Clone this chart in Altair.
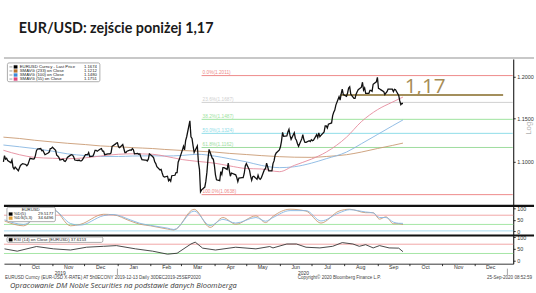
import altair as alt
import pandas as pd

W = 515
FULL_W = 536
FONT = "Liberation Sans"

title_text = "EUR/USD: zejście poniżej 1,17"

# ---- daily closes ----
close_2019_09 = [1.1000, 1.1070, 1.1030, 1.1040, 1.1015, 1.0990, 1.1020, 1.0940, 1.0920, 1.0940, 1.0900]
close_2019_10 = [1.0930, 1.0960, 1.0970, 1.0980, 1.0970, 1.0955, 1.0970, 1.1005, 1.1040, 1.1030, 1.1035, 1.1070,
                 1.1125, 1.1145, 1.1150, 1.1125, 1.1130, 1.1105, 1.1080, 1.1100, 1.1110, 1.1150, 1.1152]
close_2019_11 = [1.1165, 1.1130, 1.1075, 1.1065, 1.1050, 1.1020, 1.1030, 1.1010, 1.1005, 1.1020, 1.1050, 1.1075,
                 1.1080, 1.1075, 1.1055, 1.1020, 1.1015, 1.1020, 1.1010, 1.1010, 1.1020]
close_2019_12 = [1.1080, 1.1080, 1.1080, 1.1105, 1.1060, 1.1065, 1.1090, 1.1130, 1.1130, 1.1120, 1.1145, 1.1150,
                 1.1120, 1.1120, 1.1080, 1.1090, 1.1090, 1.1090, 1.1100, 1.1175, 1.1200, 1.1213]
close_2020_01 = [1.1215, 1.1170, 1.1160, 1.1195, 1.1150, 1.1105, 1.1105, 1.1120, 1.1135, 1.1130, 1.1150, 1.1135,
                 1.1090, 1.1095, 1.1085, 1.1090, 1.1055, 1.1025, 1.1020, 1.1020, 1.1010, 1.1030, 1.1090]
close_2020_02 = [1.1060, 1.1045, 1.1000, 1.0980, 1.0945, 1.0910, 1.0915, 1.0875, 1.0840, 1.0830, 1.0840, 1.0790,
                 1.0805, 1.0785, 1.0845, 1.0850, 1.0880, 1.0880, 1.0995, 1.1025]
close_2020_03 = [1.1135, 1.1175, 1.1135, 1.1240, 1.1285, 1.1470, 1.1285, 1.1265, 1.1180, 1.1105, 1.1180, 1.0995,
                 1.0915, 1.0670, 1.0690, 1.0720, 1.0785, 1.0885, 1.1030, 1.1140, 1.1040, 1.1030]
close_2020_04 = [1.0960, 1.0855, 1.0800, 1.0790, 1.0890, 1.0860, 1.0935, 1.0935, 1.0915, 1.0985, 1.0905, 1.0840,
                 1.0875, 1.0860, 1.0855, 1.0825, 1.0780, 1.0820, 1.0825, 1.0825, 1.0870, 1.0955]
close_2020_05 = [1.0980, 1.0905, 1.0840, 1.0795, 1.0835, 1.0840, 1.0805, 1.0850, 1.0815, 1.0805, 1.0820, 1.0915,
                 1.0925, 1.0985, 1.0945, 1.0900, 1.0900, 1.0980, 1.1010, 1.1075, 1.1100]
close_2020_06 = [1.1135, 1.1170, 1.1235, 1.1335, 1.1290, 1.1295, 1.1340, 1.1370, 1.1300, 1.1255, 1.1330, 1.1265,
                 1.1245, 1.1205, 1.1175, 1.1260, 1.1310, 1.1250, 1.1220, 1.1220, 1.1240, 1.1230]
close_2020_07 = [1.1250, 1.1240, 1.1245, 1.1310, 1.1275, 1.1330, 1.1285, 1.1300, 1.1340, 1.1410, 1.1410, 1.1385,
                 1.1430, 1.1445, 1.1530, 1.1570, 1.1595, 1.1655, 1.1755, 1.1715, 1.1790, 1.1845, 1.1780]
close_2020_08 = [1.1760, 1.1800, 1.1860, 1.1875, 1.1785, 1.1735, 1.1735, 1.1785, 1.1815, 1.1840, 1.1870, 1.1930,
                 1.1835, 1.1860, 1.1795, 1.1795, 1.1830, 1.1830, 1.1820, 1.1905, 1.1935]
close_2020_09 = [1.1990, 1.1855, 1.1850, 1.1840, 1.1815, 1.1780, 1.1800, 1.1815, 1.1845, 1.1845, 1.1845, 1.1815,
                 1.1845, 1.1840, 1.1770, 1.1705, 1.1660, 1.1675, 1.1674]

price_months = [
    ("2019-09-16", "2019-09-30", close_2019_09), ("2019-10-01", "2019-10-31", close_2019_10),
    ("2019-11-01", "2019-11-30", close_2019_11), ("2019-12-01", "2019-12-31", close_2019_12),
    ("2020-01-01", "2020-01-31", close_2020_01), ("2020-02-01", "2020-02-29", close_2020_02),
    ("2020-03-01", "2020-03-31", close_2020_03), ("2020-04-01", "2020-04-30", close_2020_04),
    ("2020-05-01", "2020-05-31", close_2020_05), ("2020-06-01", "2020-06-30", close_2020_06),
    ("2020-07-01", "2020-07-31", close_2020_07), ("2020-08-01", "2020-08-31", close_2020_08),
    ("2020-09-01", "2020-09-25", close_2020_09),
]

# ---- moving averages ----
sma_dates = ["2019-09-16", "2019-10-01", "2019-10-15", "2019-11-01", "2019-11-15", "2019-12-02", "2019-12-16",
             "2020-01-02", "2020-01-15", "2020-02-03", "2020-02-14", "2020-03-02", "2020-03-16", "2020-04-01",
             "2020-04-15", "2020-05-01", "2020-05-15", "2020-06-01", "2020-06-15", "2020-07-01", "2020-07-15",
             "2020-08-03", "2020-08-17", "2020-09-01", "2020-09-15", "2020-09-25"]
sma233 = [1.1280, 1.1265, 1.1245, 1.1225, 1.1210, 1.1195, 1.1180, 1.1170, 1.1160, 1.1150, 1.1140, 1.1128, 1.1120,
          1.1110, 1.1095, 1.1082, 1.1070, 1.1058, 1.1052, 1.1050, 1.1060, 1.1080, 1.1110, 1.1150, 1.1185, 1.1212]
sma100 = [1.1190, 1.1170, 1.1150, 1.1120, 1.1090, 1.1070, 1.1060, 1.1060, 1.1065, 1.1068, 1.1065, 1.1072, 1.1085,
          1.1065, 1.1035, 1.1000, 1.0960, 1.0935, 1.0945, 1.0985, 1.1035, 1.1110, 1.1205, 1.1310, 1.1410, 1.1480]
sma55 = [1.1130, 1.1080, 1.1050, 1.1040, 1.1035, 1.1045, 1.1065, 1.1085, 1.1090, 1.1085, 1.1065, 1.1025, 1.1005,
         1.0985, 1.0955, 1.0925, 1.0920, 1.0890, 1.0960, 1.1030, 1.1110, 1.1280, 1.1460, 1.1600, 1.1690, 1.1751]
sma_names = ["SMAVG (233)", "SMAVG (100)", "SMAVG (55)"]
sma_colors = ["#c99a72", "#86b6e2", "#e58a9c"]

# ---- Fibonacci retracement ----
fib_labels = ["0.0%(1.2011)", "23.6%(1.1687)", "38.2%(1.1487)", "50.0%(1.1324)", "61.8%(1.1162)", "100.0%(1.0638)"]
fib_levels = [1.2011, 1.1687, 1.1487, 1.1324, 1.1162, 1.0638]
fib_colors = ["#ee8a8a", "#cfcfcf", "#9ee39e", "#8fdde8", "#9edc9e", "#ee8a8a"]
fib_start = "2020-03-20"
fib_end = "2021-01-06"

level_dates = ["2020-07-28", "2020-12-28"]
level_value = 1.1775

# ---- legend texts ----
leg_names = ["EURUSD Curncy - Last Price", "SMAVG (233)  on Close", "SMAVG (100)  on Close", "SMAVG (55)  on Close"]
leg_values = ["1.1674", "1.1212", "1.1480", "1.1751"]
leg_colors = ["#000000", "#b8722e", "#3f8ad6", "#e0457b"]

# ---- stochastic ----
stoch_dates = ["2019-09-17", "2019-10-05", "2019-10-21", "2019-11-02", "2019-11-18", "2019-11-27", "2019-12-19",
               "2019-12-28", "2020-01-13", "2020-01-22", "2020-02-01", "2020-02-17", "2020-02-23", "2020-03-13",
               "2020-03-28", "2020-04-09", "2020-04-21", "2020-05-10", "2020-05-19", "2020-05-26", "2020-06-11",
               "2020-06-26", "2020-07-10", "2020-07-27", "2020-08-06", "2020-08-21", "2020-08-28", "2020-09-03",
               "2020-09-09", "2020-09-16", "2020-09-21", "2020-09-25"]
stoch_d = [45, 24, 85, 94, 24, 30, 74, 72, 45, 31, 24, 10, 6, 96, 17, 60, 31, 67, 38, 65, 96, 88, 36, 88, 96, 81,
           81, 53, 63, 33, 33, 29.5]
stoch_ds = [50, 30, 76, 92, 34, 27, 68, 73, 50, 35, 26, 14, 8, 88, 25, 52, 36, 60, 44, 60, 90, 90, 45, 80, 94, 84,
            80, 60, 60, 40, 35, 34.6]
stoch_ref = [70, 30, 2]
stoch_ref_colors = ["#f2a7a7", "#a5e6a5", "#a8dcf0"]

# ---- RSI ----
rsi_dates = ["2019-09-17", "2019-09-29", "2019-10-17", "2019-11-02", "2019-11-18", "2019-12-03", "2019-12-19",
             "2019-12-31", "2020-01-18", "2020-02-03", "2020-02-17", "2020-02-26", "2020-03-10", "2020-03-14",
             "2020-03-21", "2020-04-02", "2020-04-21", "2020-05-10", "2020-05-23", "2020-05-26", "2020-06-08",
             "2020-06-17", "2020-06-26", "2020-07-09", "2020-07-21", "2020-07-30", "2020-08-09", "2020-08-15",
             "2020-08-21", "2020-08-28", "2020-09-03", "2020-09-12", "2020-09-21", "2020-09-25"]
rsi_vals = [50, 40, 60, 50, 45, 57, 61, 64, 50, 40, 27, 31, 71, 79, 53, 45, 57, 50, 60, 54, 71, 71, 57, 54, 61, 77,
            71, 61, 68, 54, 64, 54, 53, 37.6]
rsi_ref = [70, 30]
rsi_ref_colors = ["#f2a7a7", "#a5e6a5"]

year_sep_dates = ["2020-01-01", "2021-01-01"]
month_ticks = [(2019, m) for m in (10, 11, 12)] + [(2020, m) for m in range(1, 13)]

footer_left = "EURUSD Curncy (EUR-USD X-RATE) AT 5h0ECONY 2019-12-13   Daily 30DEC2019-25SEP2020"
footer_mid = "Copyright© 2020 Bloomberg Finance L.P."
footer_right = "25-Sep-2020 08:52:59"
source_text = "Opracowanie DM Noble Securities na podstawie danych Bloomberga"


# ================= helpers =================
def utc(s, h=0):
    y, m, d = (int(v) for v in s.split("-"))
    return alt.DateTime(year=y, month=m, date=d, hours=h, utc=True)


x_scale = alt.Scale(type="utc", domain=[utc("2019-09-16", 12), utc("2021-01-06", 12)], nice=False)


def label(text, x, y, size=5.0, color="#333333", align="left", baseline="middle", font=FONT, **kw):
    return alt.Chart(pd.DataFrame({"t": [text]})).mark_text(
        align=align, baseline=baseline, fontSize=size, color=color, font=font, **kw
    ).encode(x=alt.value(x), y=alt.value(y), text="t:N")


def box(x1, y1, x2, y2, stroke="#8a8a8a", fill="#ffffff", sw=0.7, r=1.5):
    return alt.Chart(pd.DataFrame({"a": [0]})).mark_rect(
        fill=fill, stroke=stroke, strokeWidth=sw, cornerRadius=r
    ).encode(x=alt.value(x1), x2=alt.value(x2), y=alt.value(y1), y2=alt.value(y2))


def hline(x1, x2, y, color, sw):
    return alt.Chart(pd.DataFrame({"a": [0]})).mark_rule(color=color, strokeWidth=sw).encode(
        x=alt.value(x1), x2=alt.value(x2), y=alt.value(y))


def right_axis(values, fmt):
    return alt.Axis(orient="right", values=values, format=fmt, title=None, grid=False, tickSize=2,
                    tickColor="#000", tickWidth=0.8, labelFontSize=5.5, labelColor="#333", labelPadding=1.5,
                    labelFont=FONT, domainColor="#000", domainWidth=1)


# ================= header =================
header = alt.layer(
    label(title_text, 15, 31.5, size=14.5, color="#1a1a1a", baseline="alphabetic", font="Lato",
          fontWeight="bold"),
    hline(0, FULL_W, 57, "#c8c8c8", 2),
).properties(width=W, height=58)

# ================= main panel =================
H1 = 148
y_main = alt.Scale(type="log", domain=[1.05226, 1.22161], nice=False)
ax_main = right_axis([1.10, 1.15, 1.20], ".4f")

rows = []
for s, e, vals in price_months:
    for d, v in zip(pd.bdate_range(s, e), vals):
        rows.append({"date": d.strftime("%Y-%m-%d"), "close": v})
price_df = pd.DataFrame(rows)

sma_rows = []
for name, vals in zip(sma_names, [sma233, sma100, sma55]):
    for d, v in zip(sma_dates, vals):
        sma_rows.append({"date": d, "v": v, "s": name})
sma_df = pd.DataFrame(sma_rows)

fib_df = pd.DataFrame({"lab": fib_labels, "lv": fib_levels, "c": fib_colors,
                       "d1": [fib_start] * len(fib_levels), "d2": [fib_end] * len(fib_levels)})

fib_rules = alt.Chart(fib_df).mark_rule(strokeWidth=1).encode(
    x=alt.X("d1:T", scale=x_scale, axis=None), x2="d2:T",
    y=alt.Y("lv:Q", scale=y_main, axis=ax_main), color=alt.Color("c:N", scale=None))
fib_text = alt.Chart(fib_df).mark_text(align="left", baseline="bottom", fontSize=4.8, dx=1, dy=-0.3,
                                       font=FONT).encode(
    x=alt.X("d1:T", scale=x_scale, axis=None), y=alt.Y("lv:Q", scale=y_main, axis=ax_main),
    text="lab:N", color=alt.Color("c:N", scale=None))

level_df = pd.DataFrame({"d1": [level_dates[0]], "d2": [level_dates[1]], "v": [level_value]})
level_rule = alt.Chart(level_df).mark_rule(color="#a38f5c", strokeWidth=2).encode(
    x=alt.X("d1:T", scale=x_scale, axis=None), x2="d2:T", y=alt.Y("v:Q", scale=y_main, axis=ax_main))

sma_lines = alt.Chart(sma_df).mark_line(strokeWidth=0.9, interpolate="monotone").encode(
    x=alt.X("date:T", scale=x_scale, axis=None), y=alt.Y("v:Q", scale=y_main, axis=ax_main),
    color=alt.Color("s:N", scale=alt.Scale(domain=sma_names, range=sma_colors), legend=None))

price_line = alt.Chart(price_df).mark_line(color="#111111", strokeWidth=1.3).encode(
    x=alt.X("date:T", scale=x_scale, axis=None),
    y=alt.Y("close:Q", scale=y_main, axis=ax_main))

main_layers = [fib_rules, fib_text, level_rule, sma_lines, price_line,
               label("1,17", 426, 28, size=21, color="#a68c55", align="center", font="Open Sans"),
               label("Log", 531, 70, size=8, color="#b0b0b0", align="center", angle=270),
               box(3.5, 4, 97, 23)]
for i, (n, v, c) in enumerate(zip(leg_names, leg_values, leg_colors)):
    yy = 8 + i * 4.1
    main_layers.append(hline(5.5, 8.5, yy, "#b0b0b0", 1.2))
    main_layers.append(box(10, yy - 1.5, 13.5, yy + 1.5, stroke=c, fill=c, sw=0.3, r=0))
    main_layers.append(label(n, 16, yy, size=4.3, color="#222"))
    main_layers.append(label(v, 94, yy, size=4.3, color="#222", align="right"))

main = alt.layer(*main_layers).properties(width=W, height=H1)

# ================= stochastic panel =================
H2 = 30
y_st = alt.Scale(domain=[-15.9, 112.9], nice=False, zero=False)
ax_st = right_axis([0, 50, 100], "d")
st_rows = []
for name, vals in zip(["%D(5)", "%DS(5,3)"], [stoch_d, stoch_ds]):
    for d, v in zip(stoch_dates, vals):
        st_rows.append({"date": d, "v": v, "s": name})
st_df = pd.DataFrame(st_rows)
st_ref_df = pd.DataFrame({"lv": stoch_ref, "c": stoch_ref_colors})

st_ref = alt.Chart(st_ref_df).mark_rule(strokeWidth=1).encode(
    y=alt.Y("lv:Q", scale=y_st, axis=ax_st), x=alt.value(0), x2=alt.value(W),
    color=alt.Color("c:N", scale=None))
st_lines = alt.Chart(st_df).mark_line(strokeWidth=0.9, interpolate="monotone").encode(
    x=alt.X("date:T", scale=x_scale, axis=None),
    y=alt.Y("v:Q", scale=y_st, axis=ax_st),
    color=alt.Color("s:N", scale=alt.Scale(domain=["%D(5)", "%DS(5,3)"], range=["#111111", "#e0a03a"]),
                    legend=None))
stoch = alt.layer(
    st_ref, st_lines,
    hline(0, FULL_W, 0.5, "#111111", 2.2),
    box(3, 2, 52, 16.5),
    label("EURUSD", 27, 5, size=4.3, color="#222", align="center"),
    box(5, 7.3, 8.5, 10.3, stroke="#000", fill="#000", sw=0.3, r=0),
    label("%D(5)", 10, 8.8, size=4.3, color="#222"),
    label("29.5177", 50, 8.8, size=4.3, color="#222", align="right"),
    box(5, 11.5, 8.5, 14.5, stroke="#e0a03a", fill="#e0a03a", sw=0.3, r=0),
    label("%DS(5,3)", 10, 13, size=4.3, color="#222"),
    label("34.6496", 50, 13, size=4.3, color="#222", align="right"),
).properties(width=W, height=H2)

# ================= RSI panel =================
H3 = 29
y_rsi = alt.Scale(domain=[-14.1, 109.8], nice=False, zero=False)
ax_rsi = right_axis([0, 50, 100], "d")
rsi_df = pd.DataFrame({"date": rsi_dates, "v": rsi_vals})
rsi_ref_df = pd.DataFrame({"lv": rsi_ref, "c": rsi_ref_colors})
sep_df = pd.DataFrame({"d": year_sep_dates})

x_axis = alt.Axis(values=[alt.DateTime(year=y, month=m, date=1, utc=True) for y, m in month_ticks],
                  format="%b", labelOffset=16, tickSize=2, tickColor="#000", tickWidth=0.8,
                  domainColor="#000", domainWidth=0.8, labelFontSize=5.3, labelPadding=0.6,
                  labelBaseline="middle", labelFlush=False, labelColor="#333", labelFont=FONT,
                  grid=False, title=None)

rsi_refl = alt.Chart(rsi_ref_df).mark_rule(strokeWidth=1).encode(
    y=alt.Y("lv:Q", scale=y_rsi, axis=ax_rsi), x=alt.value(0), x2=alt.value(W),
    color=alt.Color("c:N", scale=None))
rsi_line = alt.Chart(rsi_df).mark_line(color="#333333", strokeWidth=0.9).encode(
    x=alt.X("date:T", scale=x_scale, axis=x_axis),
    y=alt.Y("v:Q", scale=y_rsi, axis=ax_rsi))
seps = alt.Chart(sep_df).mark_rule(color="#666", strokeWidth=0.6).encode(
    x=alt.X("d:T", scale=x_scale, axis=x_axis), y=alt.value(34), y2=alt.value(40.5))

rsi = alt.layer(
    rsi_refl, rsi_line, seps,
    hline(0, FULL_W, 0.5, "#111111", 2.2),
    box(3, 2, 100, 7.5),
    box(5, 3.3, 8.5, 6.3, stroke="#000", fill="#000", sw=0.3, r=0),
    label("RSI (14)  on Close (EURUSD)  37.6153", 10, 4.8, size=4.3, color="#222"),
    label("2019", 57, 38, size=5.0, color="#333", align="center"),
    label("2020", 303, 38, size=5.0, color="#333", align="center"),
    label(footer_left, 1, 43.5, size=4.6, color="#444"),
    label(footer_mid, 297, 43.5, size=4.6, color="#444"),
    label(footer_right, 534, 43.5, size=4.6, color="#444", align="right"),
    label(source_text, 6, 52, size=7.6, color="#3a3a3a", font="Open Sans", fontStyle="italic"),
).properties(width=W, height=H3)

chart = alt.vconcat(header, main, stoch, rsi, spacing=0, bounds="flush").properties(
    padding=0, background="white"
).configure(font=FONT, view=alt.ViewConfig(stroke=None))

chart.save("out.html", embed_options={"renderer": "svg", "actions": False})
